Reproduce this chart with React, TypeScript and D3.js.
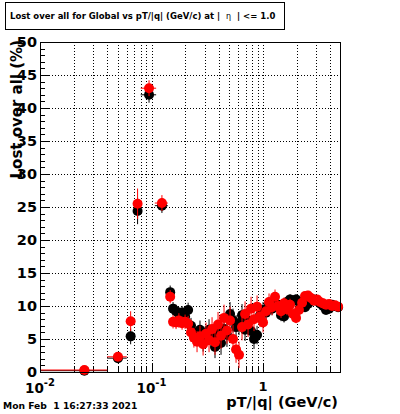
import React from "react";
import * as d3 from "d3";

const width = 400;
const height = 414;
const frame = { left: 40, right: 340, top: 42, bottom: 372 };
const font = "'DejaVu Sans', sans-serif";

// coarse bins at low pT: centre, low edge, high edge
const lowPt = [0.025, 0.05, 0.065, 0.075, 0.095, 0.124, 0.147];
const lowPtMin = [0.01, 0.04, 0.06, 0.07, 0.08, 0.107, 0.14];
const lowPtMax = [0.04, 0.06, 0.07, 0.08, 0.11, 0.14, 0.152];

// fine bins above 0.15 GeV/c
const finePt = [
  0.156, 0.166, 0.176, 0.188, 0.2, 0.213, 0.226, 0.24, 0.256, 0.272, 0.29,
  0.308, 0.328, 0.349, 0.371, 0.395, 0.42, 0.447, 0.475, 0.506, 0.538, 0.573,
  0.609, 0.648, 0.69, 0.734, 0.781, 0.83, 0.884, 0.94, 1.0, 1.064, 1.132,
  1.204, 1.281, 1.363, 1.45, 1.543, 1.641, 1.747, 1.858, 1.977, 2.1, 2.24,
  2.38, 2.53, 2.69, 2.87, 3.05, 3.24, 3.45, 3.67, 3.91, 4.16, 4.42, 4.71,
];

const redLow = [0.3, 2.3, 7.7, 25.5, 43.0, 25.6, 11.4];
const redLowErr = [0.3, 0.5, 1.5, 2.3, 1.2, 1.2, 1.0];
const blackLow = [0.2, 2.1, 5.4, 24.4, 42.0, 25.2, 12.1];
const blackLowErr = [0.2, 0.5, 1.2, 2.0, 1.2, 1.1, 1.0];

const redFine = [
  7.6, 7.5, 7.8, 7.4, 7.6, 7.3, 6.0, 5.2, 4.6, 5.4, 4.2, 5.8, 4.8, 6.5, 4.5,
  7.2, 5.5, 8.2, 6.3, 7.8, 5.0, 3.4, 2.6, 6.8, 8.8, 7.2, 9.6, 8.0, 9.9, 8.4,
  7.5, 9.2, 10.6, 9.8, 11.4, 10.0, 9.2, 10.4, 9.5, 10.2, 8.8, 8.2, 9.4, 10.5,
  11.5, 11.6, 11.2, 10.8, 11.0, 10.6, 10.4, 10.2, 10.3, 10.0, 10.1, 9.9,
];
const redFineErr = [
  1.0, 1.0, 1.1, 1.0, 1.1, 1.2, 1.4, 1.5, 1.6, 1.6, 1.7, 1.7, 1.8, 1.8, 1.9,
  1.9, 2.0, 2.0, 2.0, 2.1, 2.1, 2.0, 2.0, 2.0, 1.9, 1.9, 1.8, 1.8, 1.7, 1.6,
  1.5, 1.4, 1.3, 1.2, 1.1, 1.0, 1.0, 0.9, 0.9, 0.9, 0.9, 0.8, 0.8, 0.8, 0.7,
  0.7, 0.7, 0.7, 0.6, 0.6, 0.6, 0.6, 0.6, 0.5, 0.5, 0.5,
];
const blackFine = [
  9.6, 9.2, 8.8, 9.0, 8.4, 9.4, 7.0, 6.0, 5.4, 6.4, 4.6, 5.2, 6.4, 5.4, 3.8,
  6.0, 4.4, 6.5, 5.6, 8.8, 7.8, 6.8, 7.4, 8.6, 6.4, 7.8, 6.2, 5.0, 5.6, 8.6,
  9.4, 9.0, 10.2, 9.6, 10.4, 10.2, 8.6, 8.4, 10.6, 11.0, 10.8, 11.0, 10.6,
  10.4, 9.8, 10.3, 10.8, 11.0, 10.8, 10.4, 10.0, 9.4, 9.6, 10.2, 10.0, 9.8,
];
const blackFineErr = [
  1.0, 1.0, 1.0, 1.0, 1.1, 1.1, 1.2, 1.3, 1.4, 1.4, 1.5, 1.5, 1.6, 1.6, 1.7,
  1.7, 1.8, 1.8, 1.8, 1.8, 1.8, 1.8, 1.8, 1.7, 1.7, 1.6, 1.6, 1.5, 1.4, 1.3,
  1.2, 1.1, 1.0, 1.0, 0.9, 0.9, 0.9, 0.9, 0.8, 0.8, 0.8, 0.8, 0.7, 0.7, 0.7,
  0.7, 0.6, 0.6, 0.6, 0.6, 0.6, 0.5, 0.5, 0.5, 0.5, 0.5,
];

const yTicks = [0, 5, 10, 15, 20, 25, 30, 35, 40, 45, 50];

const x = d3.scaleLog().domain([0.01, 4.9]).range([frame.left, frame.right]);
const y = d3.scaleLinear().domain([0, 50]).range([frame.bottom, frame.top]);

type Pt = { x: number; lo: number; hi: number; v: number; e: number };

const buildSeries = (low: number[], lowErr: number[], fine: number[], fineErr: number[]): Pt[] => {
  const pts: Pt[] = lowPt.map((p, i) => ({ x: p, lo: lowPtMin[i], hi: lowPtMax[i], v: low[i], e: lowErr[i] }));
  finePt.forEach((p, i) => {
    const prev = i === 0 ? lowPtMax[lowPtMax.length - 1] : Math.sqrt(finePt[i - 1] * p);
    const next = i === finePt.length - 1 ? 4.9 : Math.sqrt(finePt[i + 1] * p);
    pts.push({ x: p, lo: prev, hi: next, v: fine[i], e: fineErr[i] });
  });
  return pts;
};

const blackPts = buildSeries(blackLow, blackLowErr, blackFine, blackFineErr);
const redPts = buildSeries(redLow, redLowErr, redFine, redFineErr);

const Series = ({ pts, color }: { pts: Pt[]; color: string }) => (
  <g>
    {pts.map((d, i) => (
      <g key={i} stroke={color} strokeWidth={1}>
        <line x1={x(d.lo)} x2={x(d.hi)} y1={y(d.v)} y2={y(d.v)} />
        <line x1={x(d.x)} x2={x(d.x)} y1={y(Math.max(0, d.v - d.e))} y2={y(d.v + d.e)} />
      </g>
    ))}
    {pts.map((d, i) => (
      <circle key={i} cx={x(d.x)} cy={y(d.v)} r={5} fill={color} />
    ))}
  </g>
);

export default function App() {
  const xTicks = x.ticks();
  const minorY = d3.range(0, 51, 1).filter((v) => v % 5 !== 0);
  const isDecade = (t: number) => Math.abs(Math.log10(t) - Math.round(Math.log10(t))) < 1e-6;

  return (
    <svg
      width={width}
      height={height}
      style={{ position: "absolute", left: 0, top: 0, background: "white" }}
      fontFamily={font}
    >
      <rect width={width} height={height} fill="white" />

      {/* grid */}
      <g stroke="black" strokeWidth={1} strokeDasharray="1,2">
        {yTicks.slice(1, -1).map((t) => (
          <line key={t} x1={frame.left} x2={frame.right} y1={Math.round(y(t)) + 0.5} y2={Math.round(y(t)) + 0.5} />
        ))}
        {xTicks.slice(1).map((t) => (
          <line key={t} x1={Math.round(x(t)) + 0.5} x2={Math.round(x(t)) + 0.5} y1={frame.top} y2={frame.bottom} />
        ))}
      </g>

      {/* ticks */}
      <g stroke="black" strokeWidth={1}>
        {yTicks.map((t) => (
          <line key={t} x1={frame.left} x2={frame.left + 9} y1={Math.round(y(t)) + 0.5} y2={Math.round(y(t)) + 0.5} />
        ))}
        {minorY.map((t) => (
          <line key={t} x1={frame.left} x2={frame.left + 5} y1={Math.round(y(t)) + 0.5} y2={Math.round(y(t)) + 0.5} />
        ))}
        {xTicks.map((t) => (
          <line
            key={t}
            x1={Math.round(x(t)) + 0.5}
            x2={Math.round(x(t)) + 0.5}
            y1={frame.bottom}
            y2={frame.bottom - (isDecade(t) ? 9 : 5)}
          />
        ))}
      </g>

      <Series pts={blackPts} color="black" />
      <Series pts={redPts} color="red" />

      <rect
        x={frame.left + 0.5}
        y={frame.top + 0.5}
        width={frame.right - frame.left}
        height={frame.bottom - frame.top}
        fill="none"
        stroke="black"
        strokeWidth={1}
      />

      {/* y tick labels */}
      <g fontSize={14.5} fontWeight="bold" textAnchor="end">
        {yTicks.map((t) => (
          <text key={t} x={frame.left - 3} y={y(t)} dy="0.36em">
            {t}
          </text>
        ))}
      </g>

      {/* x tick labels */}
      <g fontWeight="bold" textAnchor="middle">
        {xTicks.filter(isDecade).map((t) => {
          const e = Math.round(Math.log10(t));
          return e === 0 ? (
            <text key={t} x={x(t)} y={391} fontSize={13}>
              1
            </text>
          ) : (
            <text key={t} x={x(t)} y={393} fontSize={13.5}>
              10
              <tspan fontSize={10} dy={-7}>
                {`-${-e}`}
              </tspan>
            </text>
          );
        })}
      </g>

      {/* axis titles */}
      <text x={338} y={407} fontSize={14.5} fontWeight="bold" textAnchor="end">
        pT/|q| (GeV/c)
      </text>
      <text
        transform={`translate(22,40) rotate(-90)`}
        fontSize={15}
        fontWeight="bold"
        textAnchor="end"
      >
        Lost over all (%)
      </text>

      {/* title box */}
      <rect x={5.5} y={2.5} width={279} height={27} fill="white" stroke="black" strokeWidth={1} />
      <text x={10} y={19} fontSize={8.5} fontWeight="bold" style={{ whiteSpace: "pre" }}>
        {"Lost over all for Global vs pT/|q| (GeV/c) at |  "}
        <tspan fontWeight="normal" fontSize={8}>
          η
        </tspan>
        {"  | <= 1.0"}
      </text>

      <text x={3} y={409} fontSize={9.2} fontWeight="bold" style={{ whiteSpace: "pre" }}>
        {"Mon Feb  1 16:27:33 2021"}
      </text>
    </svg>
  );
}
